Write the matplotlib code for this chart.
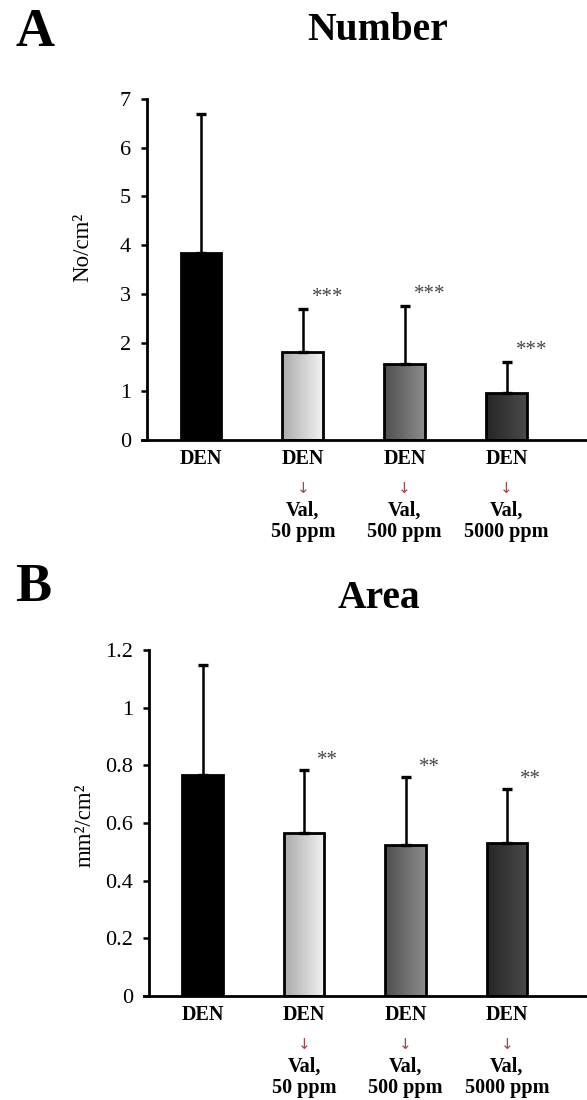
import numpy as np
import matplotlib
matplotlib.use('Agg')
import matplotlib.pyplot as plt
from matplotlib.colors import LinearSegmentedColormap
from matplotlib.ticker import FuncFormatter

plt.rcParams['font.family'] = ['Liberation Serif', 'DejaVu Serif']

# Data
groups = ['DEN', 'DEN', 'DEN', 'DEN']
doses = ['', '50 ppm', '500 ppm', '5000 ppm']

number_mean = [3.83, 1.81, 1.55, 0.97]
number_sd = [2.87, 0.88, 1.21, 0.64]
number_sig = ['', '***', '***', '***']

area_mean = [0.767, 0.565, 0.524, 0.531]
area_sd = [0.381, 0.219, 0.236, 0.187]
area_sig = ['', '**', '**', '**']

# fill of each bar: (left colour, right colour)
bar_fills = [('#000000', '#000000'),
             ('#aaaaaa', '#f2f2f2'),
             ('#4f4f4f', '#8c8c8c'),
             ('#262626', '#4a4a4a')]


def draw_panel(ax, means, sds, sig, ylim, yticks, star_dx, star_dy):
    x = np.arange(len(means))
    bars = ax.bar(x, means, width=0.40, color='none', edgecolor='black',
                  linewidth=2.0, zorder=3)
    # gradient fill clipped to each bar
    grad = np.linspace(0, 1, 64).reshape(1, -1)
    for rect, (c0, c1) in zip(bars, bar_fills):
        cmap = LinearSegmentedColormap.from_list('g', [c0, c1])
        x0 = rect.get_x()
        im = ax.imshow(grad, cmap=cmap, aspect='auto', zorder=2,
                       extent=[x0, x0 + rect.get_width(), 0, rect.get_height()])
        im.set_clip_path(rect)
    ax.errorbar(x, means, yerr=[np.zeros(len(sds)), sds], fmt='none',
                ecolor='black', elinewidth=1.8, capsize=3.5, capthick=2.4,
                zorder=4)
    for xi, m, s, st in zip(x, means, sds, sig):
        if st:
            ax.annotate(st, xy=(xi, m + s), xytext=(star_dx, star_dy),
                        textcoords='offset points', ha='center', va='center',
                        fontsize=15, color='#444444')

    ax.set_xlim(-0.53, 3.79)
    ax.set_ylim(*ylim)
    ax.set_yticks(yticks)
    ax.yaxis.set_major_formatter(FuncFormatter(lambda v, p: '{:g}'.format(v)))
    ax.tick_params(axis='y', direction='out', length=4.5, width=1.8,
                   labelsize=16, pad=7)
    ax.tick_params(axis='x', length=0, labelbottom=False)
    for sp in ['top', 'right']:
        ax.spines[sp].set_visible(False)
    for sp in ['left', 'bottom']:
        ax.spines[sp].set_linewidth(2.0)
    ax.spines['bottom'].set_bounds(-0.58, 3.79)
    ax.spines['bottom'].set_zorder(5)

    # category labels below the axis
    for xi, g, d in zip(x, groups, doses):
        ax.annotate(g, xy=(xi, 0), xycoords=('data', 'axes fraction'),
                    xytext=(0, -13.5), textcoords='offset points',
                    ha='center', va='center', fontsize=14.5, fontweight='bold',
                    annotation_clip=False)
        if d:
            ax.annotate('\u2193', xy=(xi, 0), xycoords=('data', 'axes fraction'),
                        xytext=(0, -35), textcoords='offset points',
                        ha='center', va='center', fontsize=11,
                        family=['DejaVu Sans'], color='#a04848',
                        annotation_clip=False)
            ax.annotate('Val,', xy=(xi, 0), xycoords=('data', 'axes fraction'),
                        xytext=(0, -50.5), textcoords='offset points',
                        ha='center', va='center', fontsize=14.5,
                        fontweight='bold', annotation_clip=False)
            ax.annotate(d, xy=(xi, 0), xycoords=('data', 'axes fraction'),
                        xytext=(0, -66), textcoords='offset points',
                        ha='center', va='center', fontsize=14.5,
                        fontweight='bold', annotation_clip=False)
    return ax


fig = plt.figure(figsize=(5.87, 11), dpi=100)

axA = fig.add_axes([147 / 587, 1 - 440 / 1100, 440 / 587, 341 / 1100])
draw_panel(axA, number_mean, number_sd, number_sig, (0, 7), range(0, 8),
           18, 8)
axA.text(-0.145, 0.566, 'No/cm\u00b2', transform=axA.transAxes, rotation=90,
         ha='center', va='center', fontsize=16.5)

axB = fig.add_axes([149 / 587, 1 - 996 / 1100, 438 / 587, 346 / 1100])
draw_panel(axB, area_mean, area_sd, area_sig, (0, 1.2),
           [0, 0.2, 0.4, 0.6, 0.8, 1.0, 1.2], 17, 7)
axB.text(-0.146, 0.494, 'mm\u00b2/cm\u00b2', transform=axB.transAxes,
         rotation=90, ha='center', va='center', fontsize=16.5)

# panel letters and titles
fig.text(15 / 587, 1 - 33 / 1100, 'A', fontsize=39, fontweight='bold',
         ha='left', va='center')
fig.text(378 / 587, 1 - 30 / 1100, 'Number', fontsize=28.5, fontweight='bold',
         ha='center', va='center')
fig.text(15 / 587, 1 - 588 / 1100, 'B', fontsize=39, fontweight='bold',
         ha='left', va='center')
fig.text(379 / 587, 1 - 599 / 1100, 'Area', fontsize=28.5, fontweight='bold',
         ha='center', va='center')

fig.savefig('out.png', dpi=100)
